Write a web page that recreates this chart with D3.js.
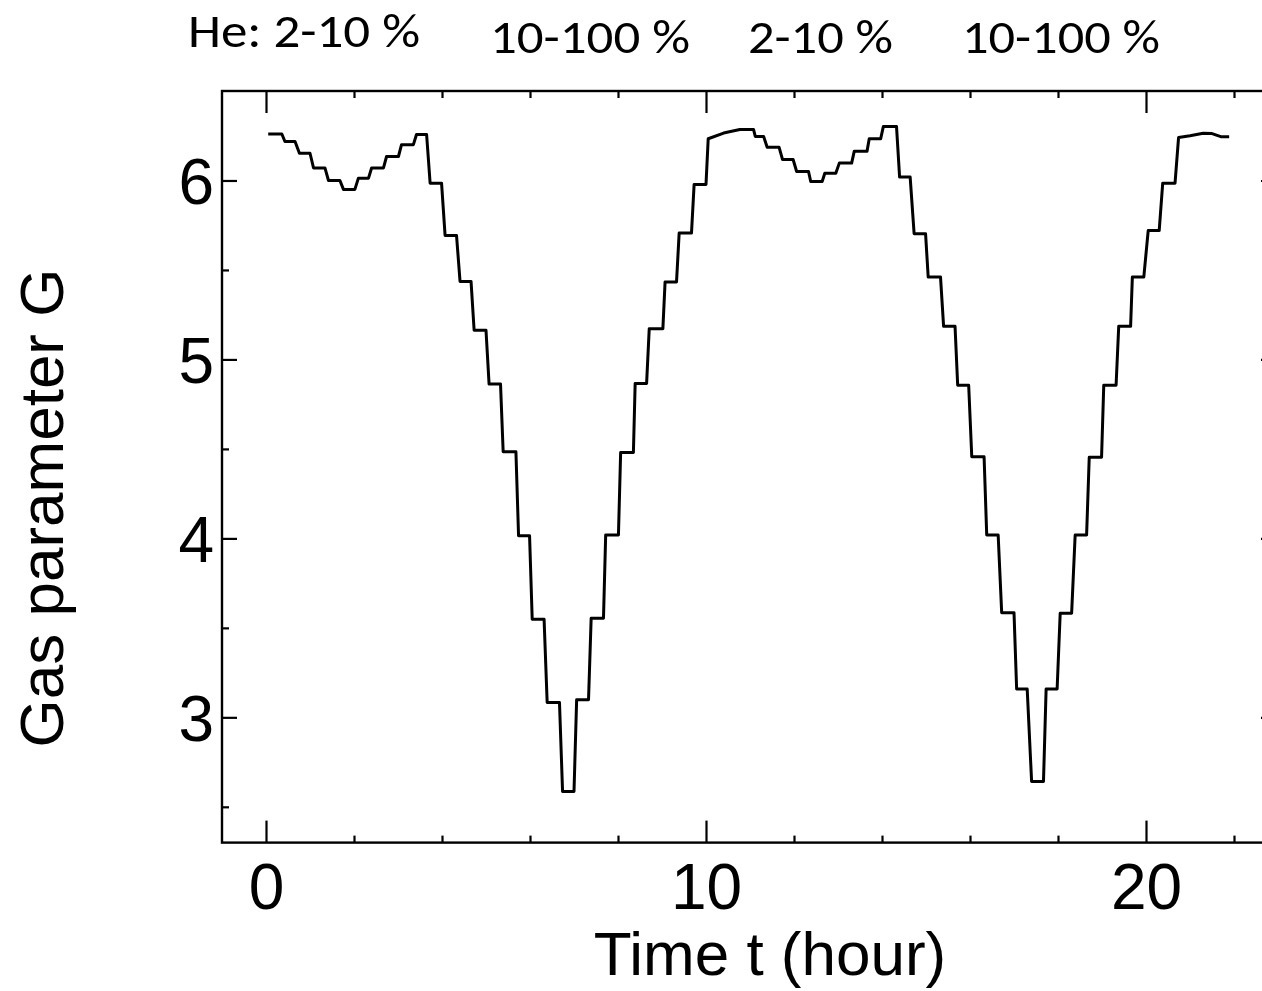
<!DOCTYPE html>
<meta charset="utf-8">
<style>
  body { margin: 0; background: #fff; }
  svg { display: block; }
  svg text { font-family: "Liberation Sans", Arial, sans-serif; fill: #000; }
  .he text { font-family: Carlito, Calibri, "Open Sans", sans-serif; }
  .tick line { stroke: #000; stroke-width: 2.2px; }
</style>
<svg width="1262" height="991"></svg>
<script src="https://d3js.org/d3.v7.min.js"></script>
<script>
  // plateau breakpoints [hour, G], one array per He sweep
  var sweepLow1 = [[0.05,6.26],[0.36,6.26],[0.43,6.218],[0.66,6.218],[0.76,6.152],[1.00,6.152],
    [1.08,6.07],[1.34,6.07],[1.42,6.00],[1.68,6.00],[1.76,5.95],[2.02,5.95],[2.10,6.013],[2.33,6.013],
    [2.40,6.07],[2.67,6.07],[2.74,6.134],[3.01,6.134],[3.08,6.20],[3.35,6.20],[3.42,6.257],[3.65,6.257]];
  var sweepHigh1 = [[3.73,5.985],[3.99,5.985],[4.07,5.693],[4.33,5.693],[4.41,5.436],[4.66,5.436],
    [4.73,5.163],[5.00,5.163],[5.07,4.862],[5.33,4.862],[5.39,4.484],[5.68,4.484],[5.74,4.015],[5.99,4.015],
    [6.05,3.548],[6.32,3.548],[6.39,3.083],[6.67,3.083],[6.74,2.586],[7.00,2.586],[7.06,3.098],[7.33,3.098],
    [7.39,3.554],[7.67,3.554],[7.72,4.019],[8.01,4.019],[8.06,4.48],[8.35,4.48],[8.39,4.866],[8.65,4.866],
    [8.71,5.172],[9.02,5.172],[9.07,5.433],[9.33,5.433],[9.39,5.706],[9.67,5.706],[9.73,5.978],[10.00,5.978]];
  var sweepLow2 = [[10.05,6.233],[10.40,6.265],[10.77,6.285],[11.08,6.285],[11.12,6.246],[11.31,6.246],
    [11.39,6.186],[11.66,6.186],[11.74,6.117],[11.98,6.117],[12.06,6.05],[12.33,6.05],[12.38,5.994],[12.64,5.994],
    [12.70,6.04],[12.95,6.04],[13.03,6.097],[13.31,6.097],[13.37,6.164],[13.66,6.164],[13.71,6.233],[13.97,6.233],
    [14.03,6.301],[14.33,6.301]];
  var sweepHigh2 = [[14.40,6.019],[14.64,6.019],[14.73,5.703],[14.99,5.703],[15.05,5.46],[15.33,5.46],
    [15.40,5.185],[15.66,5.185],[15.72,4.856],[15.97,4.856],[16.04,4.456],[16.32,4.456],[16.38,4.019],[16.64,4.019],
    [16.72,3.585],[17.00,3.585],[17.06,3.158],[17.30,3.158],[17.40,2.642],[17.67,2.642],[17.73,3.158],[17.98,3.158],
    [18.05,3.582],[18.31,3.582],[18.39,4.019],[18.65,4.019],[18.71,4.453],[18.99,4.453],[19.04,4.856],[19.32,4.856],
    [19.38,5.185],[19.65,5.185],[19.69,5.46],[19.95,5.46],[20.05,5.72],[20.30,5.72],[20.38,5.985],[20.66,5.985],
    [20.74,6.24],[21.00,6.25],[21.30,6.264],[21.50,6.262],[21.70,6.245],[21.89,6.245]];

  var heLabels = ["He: 2-10 %", "10-100 %", "2-10 %", "10-100 %"];
  var xMajor = [0, 10, 20];
  var xMinor = [2, 4, 6, 8, 12, 14, 16, 18, 22];
  var yMajor = [3, 4, 5, 6];
  var yMinor = [2.5, 3.5, 4.5, 5.5];

  (function() {
    var svg = d3.select("svg");
    var plotL = 222, plotR = 1278, plotT = 91, plotB = 842.6;

    var x = d3.scaleLinear().domain([-1, 23]).range([plotL, plotR]);
    var y = d3.scaleLinear().domain([2.3, 6.5]).range([plotB, plotT]);

    // ticks all point inward
    function addAxis(axis, tx, ty) {
      var g = svg.append("g").attr("transform", "translate(" + tx + "," + ty + ")").call(axis);
      g.select(".domain").remove();
      return g;
    }
    var tickFont = 64;

    var xb = addAxis(d3.axisBottom(x).tickValues(xMajor).tickSize(-22).tickFormat(d3.format("d")), 0, plotB);
    xb.selectAll("text").attr("y", 66).attr("dy", 0).style("font-size", tickFont + "px");
    addAxis(d3.axisBottom(x).tickValues(xMinor).tickSize(-7).tickFormat(""), 0, plotB);
    addAxis(d3.axisTop(x).tickValues(xMajor).tickSize(-22).tickFormat(""), 0, plotT);
    addAxis(d3.axisTop(x).tickValues(xMinor).tickSize(-7).tickFormat(""), 0, plotT);

    var yl = addAxis(d3.axisLeft(y).tickValues(yMajor).tickSize(-15).tickFormat(d3.format("d")), plotL, 0);
    yl.selectAll("text").attr("x", -8).attr("dy", "0.358em").style("font-size", tickFont + "px");
    addAxis(d3.axisLeft(y).tickValues(yMinor).tickSize(-7).tickFormat(""), plotL, 0);
    addAxis(d3.axisRight(y).tickValues(yMajor).tickSize(-15).tickFormat(""), plotR - 2, 0);
    addAxis(d3.axisRight(y).tickValues(yMinor).tickSize(-7).tickFormat(""), plotR - 2, 0);

    // frame
    svg.append("rect")
      .attr("x", plotL).attr("y", plotT)
      .attr("width", plotR - plotL).attr("height", plotB - plotT)
      .attr("fill", "none").attr("stroke", "#000").attr("stroke-width", 2.4);

    var line = d3.line().x(function(d) { return x(d[0]); }).y(function(d) { return y(d[1]); });
    var all = sweepLow1.concat(sweepHigh1, sweepLow2, sweepHigh2);
    svg.append("path")
      .datum(all)
      .attr("d", line)
      .attr("fill", "none")
      .attr("stroke", "#000")
      .attr("stroke-width", 3)
      .attr("stroke-linejoin", "round");

    // axis titles
    svg.append("text")
      .attr("x", 770).attr("y", 975)
      .attr("text-anchor", "middle")
      .style("font-size", "62px")
      .text("Time t (hour)");
    svg.append("text")
      .attr("transform", "translate(63,508) rotate(-90)")
      .attr("text-anchor", "middle")
      .style("font-size", "62px")
      .text("Gas parameter G");

    // He concentration labels above the frame
    var heX = [188, 490, 748, 962], heW = [232, 200, 145, 198], heY = [47, 53, 53, 53];
    svg.append("g").attr("class", "he")
      .selectAll("text")
      .data(heLabels)
      .enter().append("text")
      .attr("x", function(d, i) { return heX[i]; })
      .attr("y", function(d, i) { return heY[i]; })
      .attr("textLength", function(d, i) { return heW[i]; })
      .attr("lengthAdjust", "spacingAndGlyphs")
      .style("font-size", "48px")
      .text(function(d) { return d; });
  })();
</script>
